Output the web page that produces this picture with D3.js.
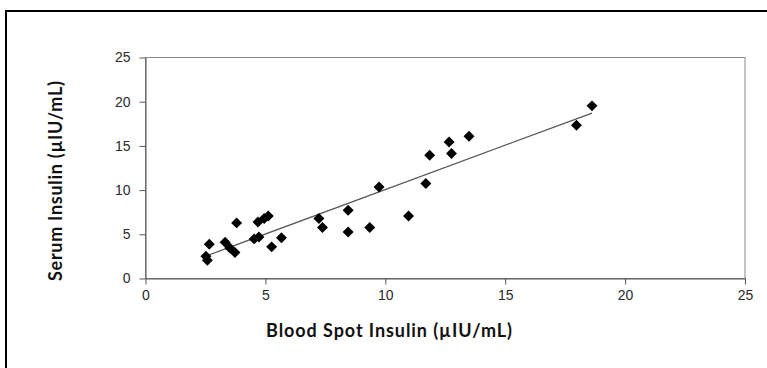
<!DOCTYPE html>
<html>
<head>
<meta charset="utf-8">
<script src="https://cdnjs.cloudflare.com/ajax/libs/d3/7.8.5/d3.min.js"></script>
<style>
    body { margin: 0; background: #fff; }
    .axis-title { font-family: Lato, "Open Sans", sans-serif; font-weight: bold; font-size: 18px; fill: #111; }
</style>
</head>
<body>
<div id="chart"></div>
<script>
    var xTicks = [0, 5, 10, 15, 20, 25],
        yTicks = [0, 5, 10, 15, 20, 25];

    // blood spot insulin (x) vs serum insulin (y), uIU/mL
    var spotInsulin = [2.52, 2.58, 2.66, 3.32, 3.52, 3.73, 3.8, 4.53, 4.73, 4.69, 4.95, 5.12,
                       5.26, 5.67, 7.23, 7.38, 8.45, 8.45, 9.35, 9.74, 10.97, 11.69, 11.85,
                       12.66, 12.76, 13.49, 17.97, 18.62];
    var serumInsulin = [2.52, 2.07, 3.88, 4.1, 3.45, 2.95, 6.29, 4.48, 4.7, 6.4, 6.79, 7.08,
                        3.58, 4.6, 6.79, 5.77, 7.73, 5.27, 5.77, 10.36, 7.07, 10.74, 13.95,
                        15.45, 14.14, 16.1, 17.34, 19.53];

    var width = 767,
        height = 368;

    var svg = d3.select('#chart').append('svg:svg')
        .attr('width', width)
        .attr('height', height);

    // outer chart frame (runs off the page on the right and bottom)
    svg.append('svg:rect')
        .attr('x', 6)
        .attr('y', 11)
        .attr('width', 900)
        .attr('height', 500)
        .attr('fill', 'none')
        .attr('stroke', '#000')
        .attr('stroke-width', 2);

    var x = d3.scaleLinear().domain([0, 25]).range([145.5, 745]),
        y = d3.scaleLinear().domain([0, 25]).range([278.5, 57.5]);

    // plot area border
    svg.append('svg:rect')
        .attr('x', x(0))
        .attr('y', y(25))
        .attr('width', x(25) - x(0))
        .attr('height', y(0) - y(25))
        .attr('fill', 'none')
        .attr('stroke', '#888')
        .attr('stroke-width', 1);

    var xAxis = svg.append('svg:g')
        .attr('transform', 'translate(0,' + y(0) + ')')
        .call(d3.axisBottom(x).tickValues(xTicks).tickSize(6).tickSizeOuter(0).tickPadding(6));

    var yAxis = svg.append('svg:g')
        .attr('transform', 'translate(' + x(0) + ',0)')
        .call(d3.axisLeft(y).tickValues(yTicks).tickSize(6).tickSizeOuter(0).tickPadding(9));

    [xAxis, yAxis].forEach(function (axis) {
        axis.attr('font-family', '"Liberation Sans", Arial, sans-serif')
            .attr('font-size', 14);
        axis.select('.domain').attr('stroke', '#555');
        axis.selectAll('.tick line').attr('stroke', '#555');
        axis.selectAll('.tick text').attr('fill', '#2a2a2a');
    });

    // linear trend line over the range of the data
    var pts = spotInsulin.map(function (v, i) { return [v, serumInsulin[i]]; });
    var mx = d3.mean(spotInsulin),
        my = d3.mean(serumInsulin);
    var sxy = d3.sum(pts, function (p) { return (p[0] - mx) * (p[1] - my); }),
        sxx = d3.sum(pts, function (p) { return (p[0] - mx) * (p[0] - mx); });
    var slope = sxy / sxx,
        intercept = my - slope * mx;
    var ext = d3.extent(spotInsulin);

    svg.append('svg:line')
        .classed('trend', true)
        .attr('x1', x(ext[0]))
        .attr('y1', y(intercept + slope * ext[0]))
        .attr('x2', x(ext[1]))
        .attr('y2', y(intercept + slope * ext[1]))
        .attr('stroke', '#555')
        .attr('stroke-width', 1.2);

    var diamond = d3.symbol().type(d3.symbolSquare).size(60);

    svg.append('svg:g').classed('points', true)
        .selectAll('path')
        .data(pts)
        .enter()
        .append('svg:path')
        .attr('d', diamond)
        .attr('transform', function (d) {
            return 'translate(' + x(d[0]) + ',' + y(d[1]) + ') rotate(45)';
        })
        .attr('fill', '#000');

    svg.append('svg:text')
        .classed('axis-title', true)
        .attr('x', 389)
        .attr('y', 337)
        .attr('text-anchor', 'middle')
        .attr('textLength', 246)
        .attr('lengthAdjust', 'spacing')
        .text('Blood Spot Insulin (µIU/mL)');

    svg.append('svg:text')
        .classed('axis-title', true)
        .attr('transform', 'translate(62,181) rotate(-90)')
        .attr('text-anchor', 'middle')
        .attr('textLength', 200)
        .attr('lengthAdjust', 'spacing')
        .text('Serum Insulin (µIU/mL)');
</script>
</body>
</html>
